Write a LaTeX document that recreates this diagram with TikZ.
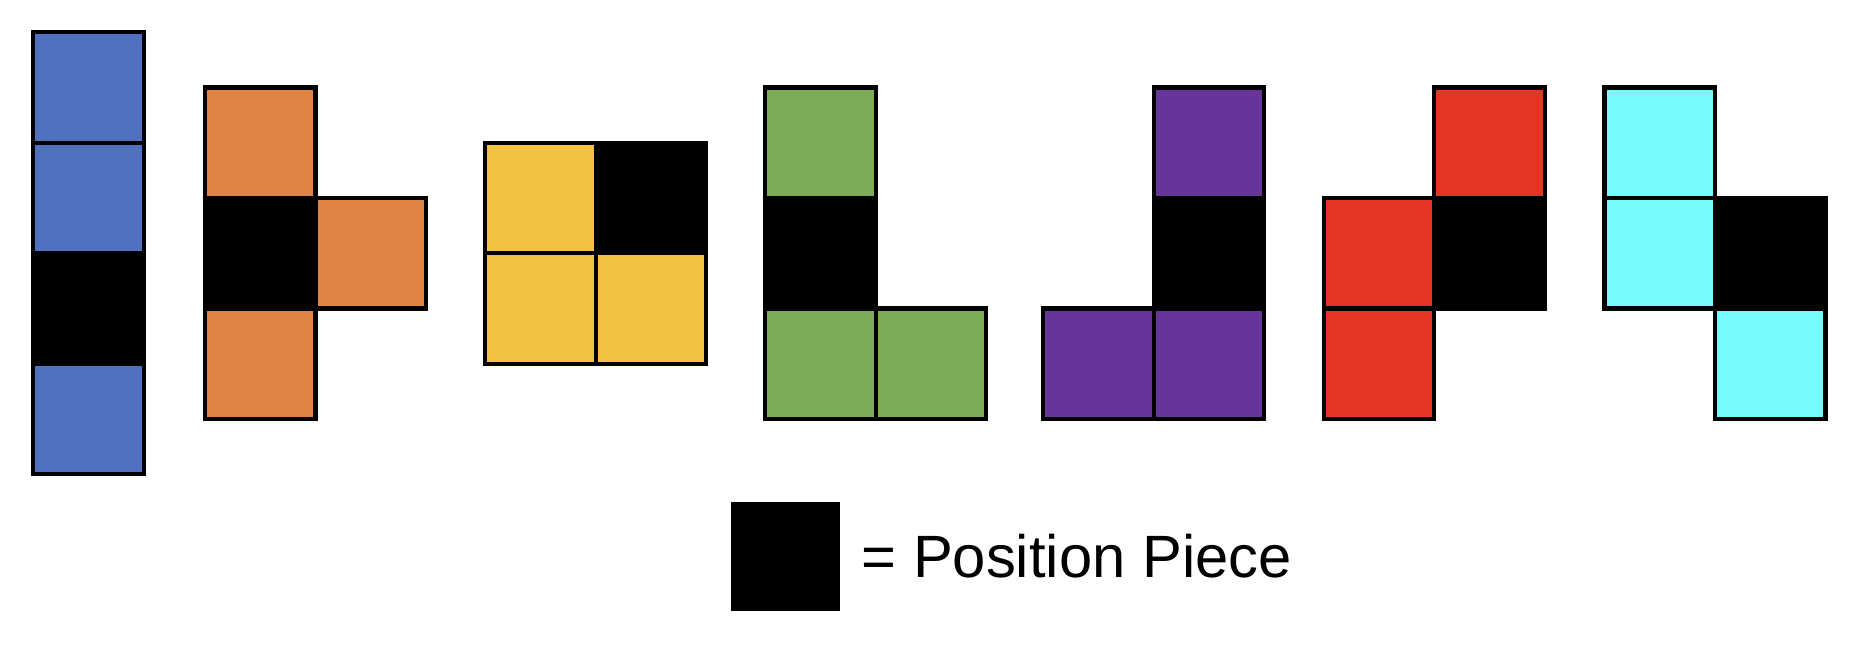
\documentclass[tikz,border=0pt]{standalone}
\usepackage{fontspec}
\setmainfont{Liberation Sans}
\usepackage{tikz}
\usetikzlibrary{positioning}
\definecolor{pieceI}{HTML}{4E72BE}
\definecolor{pieceT}{HTML}{DF8244}
\definecolor{pieceO}{HTML}{F1C343}
\definecolor{pieceL}{HTML}{7EAB59}
\definecolor{pieceJ}{HTML}{67349A}
\definecolor{pieceS}{HTML}{E53524}
\definecolor{pieceZ}{HTML}{76FAFD}
\tikzset{
	cellline/.style={draw=black, line width=1.2pt},
	posbox/.style={fill=black, minimum size=1.09cm, inner sep=0pt},
	legendtext/.style={inner sep=0pt, font=\fontsize{17}{20}\selectfont}
}
\newcommand{\tetcell}[3]{
	\filldraw[fill=#3, cellline] (#1, #2) rectangle (#1+1, #2+1);
}

\begin{document}
\begin{tikzpicture}[scale=1.105]
				\useasboundingbox (0,0) rectangle (16.787,5.882);
				% I piece
				\tetcell{0.30}{4.59}{pieceI}
				\tetcell{0.30}{3.59}{pieceI}
				\tetcell{0.30}{2.59}{black}
				\tetcell{0.30}{1.59}{pieceI}
				% T piece
				\tetcell{1.855}{4.09}{pieceT}
				\tetcell{1.855}{3.09}{black}
				\tetcell{2.855}{3.09}{pieceT}
				\tetcell{1.855}{2.09}{pieceT}
				% O piece
				\tetcell{4.39}{3.59}{pieceO}
				\tetcell{5.39}{3.59}{black}
				\tetcell{4.39}{2.59}{pieceO}
				\tetcell{5.39}{2.59}{pieceO}
				% L piece
				\tetcell{6.925}{4.09}{pieceL}
				\tetcell{6.925}{3.09}{black}
				\tetcell{6.925}{2.09}{pieceL}
				\tetcell{7.925}{2.09}{pieceL}
				% J piece
				\tetcell{10.44}{4.09}{pieceJ}
				\tetcell{10.44}{3.09}{black}
				\tetcell{10.44}{2.09}{pieceJ}
				\tetcell{9.44}{2.09}{pieceJ}
				% S piece
				\tetcell{12.98}{4.09}{pieceS}
				\tetcell{12.98}{3.09}{black}
				\tetcell{11.98}{3.09}{pieceS}
				\tetcell{11.98}{2.09}{pieceS}
				% Z piece
				\tetcell{14.52}{4.09}{pieceZ}
				\tetcell{14.52}{3.09}{pieceZ}
				\tetcell{15.52}{3.09}{black}
				\tetcell{15.52}{2.09}{pieceZ}

				% legend
				\node[posbox] (pospiece) at (7.109,0.846) {};
				\node[legendtext, right=0.2cm of pospiece] (legend) {= Position Piece};
			\end{tikzpicture}
\end{document}
